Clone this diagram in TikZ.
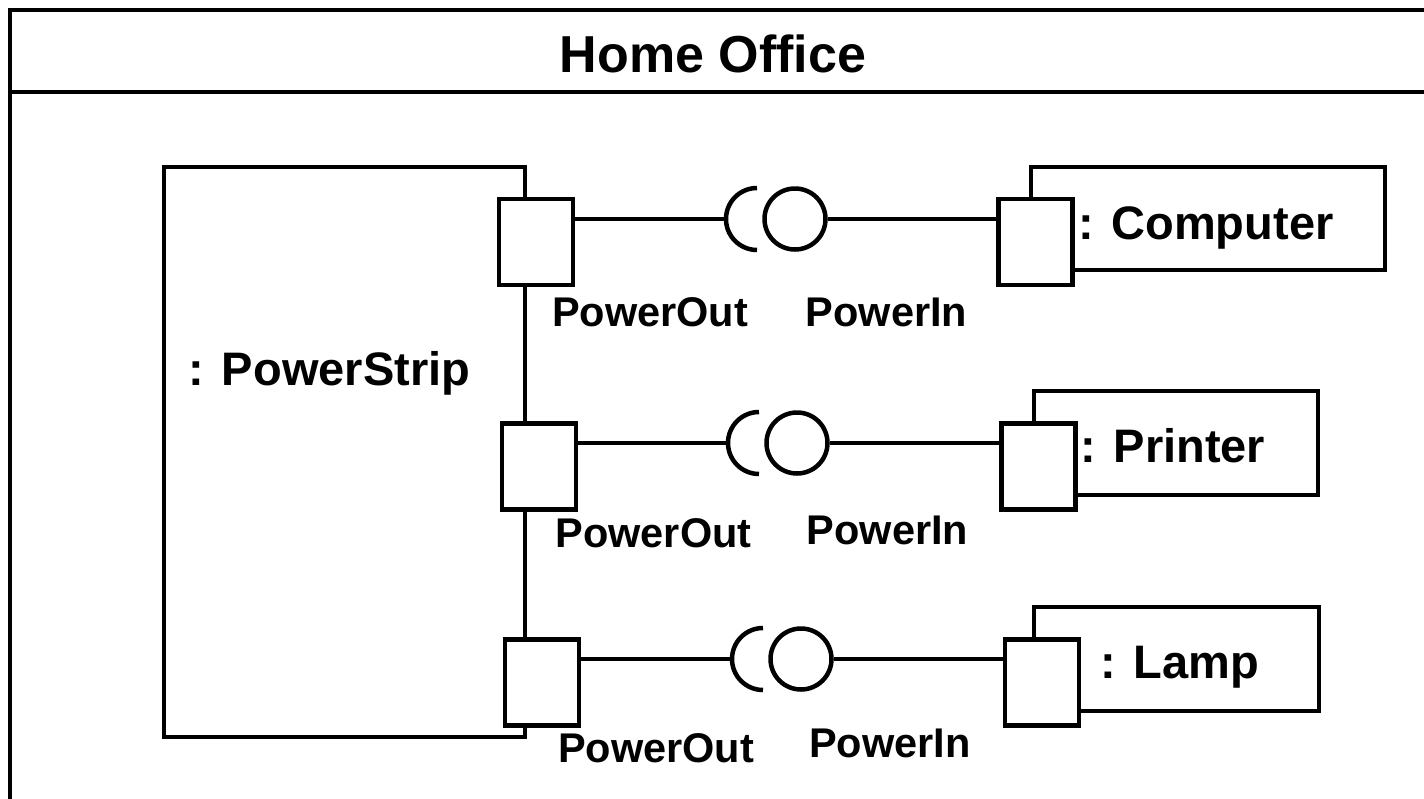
\documentclass[tikz,border=0pt]{standalone}
\usepackage{fontspec}
\setmainfont{Liberation Sans}
\begin{document}
\begin{tikzpicture}[x=1pt,y=-1pt,line width=4.5pt,
  box/.style={draw,rectangle,inner sep=0pt,fill=white},
  port/.style={box,minimum width=74pt,minimum height=86pt},
  ball/.style={draw,circle,inner sep=0pt,minimum size=61pt,fill=white},
  conn/.style={line width=4pt},
  big/.style={anchor=base,inner sep=0pt,font=\bfseries\fontsize{47}{50}\selectfont},
  lbl/.style={anchor=base,inner sep=0pt,font=\bfseries\fontsize{41.5}{45}\selectfont},
  ttl/.style={anchor=base,inner sep=0pt,font=\bfseries\fontsize{52}{56}\selectfont}]
\useasboundingbox (0,0) rectangle (1424,798);
\clip (0,0) rectangle (1424,798);
% frame
\draw (10,900) -- (10,10) -- (1500,10);
\draw (10,92) -- (1500,92);
\node[ttl] (title) at (713,72) {Home Office};
% power strip
\node[box,fill=none,minimum width=361pt,minimum height=570pt] (strip) at (344.5,452) {};
\node[big] (striplbl) at (329.5,385) {: PowerStrip};
% components
\node[box,fill=none,minimum width=354pt,minimum height=103pt] (comp) at (1208,218.5) {};
\node[box,fill=none,minimum width=284pt,minimum height=104pt] (prin) at (1176,443) {};
\node[box,fill=none,minimum width=285pt,minimum height=104pt] (lamp) at (1176.5,659) {};
% ports
\node[port] (p1) at (536,242) {};
\node[port] (p2) at (539,466.5) {};
\node[port] (p3) at (542,682.5) {};
\node[port] (q1) at (1035.5,242) {};
\node[port] (q2) at (1038.5,466.5) {};
\node[port] (q3) at (1042,682.5) {};
% texts
\node[big] (compl) at (1206,239) {: Computer};
\node[big] (prinl) at (1173,462) {: Printer};
\node[big] (lampl) at (1180,678) {: Lamp};
\node[lbl] (o1) at (650,326) {PowerOut};
\node[lbl] (i1) at (886.5,326) {PowerIn};
\node[lbl] (o2) at (653.5,547) {PowerOut};
\node[lbl] (i2) at (887.5,544) {PowerIn};
\node[lbl] (o3) at (656,762) {PowerOut};
\node[lbl] (i3) at (890,757) {PowerIn};
% balls and sockets
\node[ball] (b1) at (795,219) {};
\node[ball] (b2) at (797,443) {};
\node[ball] (b3) at (801,659) {};
\coordinate (s1) at (726,219);
\coordinate (s2) at (728,443);
\coordinate (s3) at (732,659);
\foreach \s in {s1,s2,s3}{
  \draw (\s) arc[start angle=180,end angle=90,radius=31];
  \draw (\s) arc[start angle=180,end angle=270,radius=31];
}
% connectors
\draw[conn] (p1.east |- s1) -- (s1);
\draw[conn] (p2.east |- s2) -- (s2);
\draw[conn] (p3.east |- s3) -- (s3);
\draw[conn] (b1.east) -- (q1.west |- b1);
\draw[conn] (b2.east) -- (q2.west |- b2);
\draw[conn] (b3.east) -- (q3.west |- b3);
\end{tikzpicture}
\end{document}
